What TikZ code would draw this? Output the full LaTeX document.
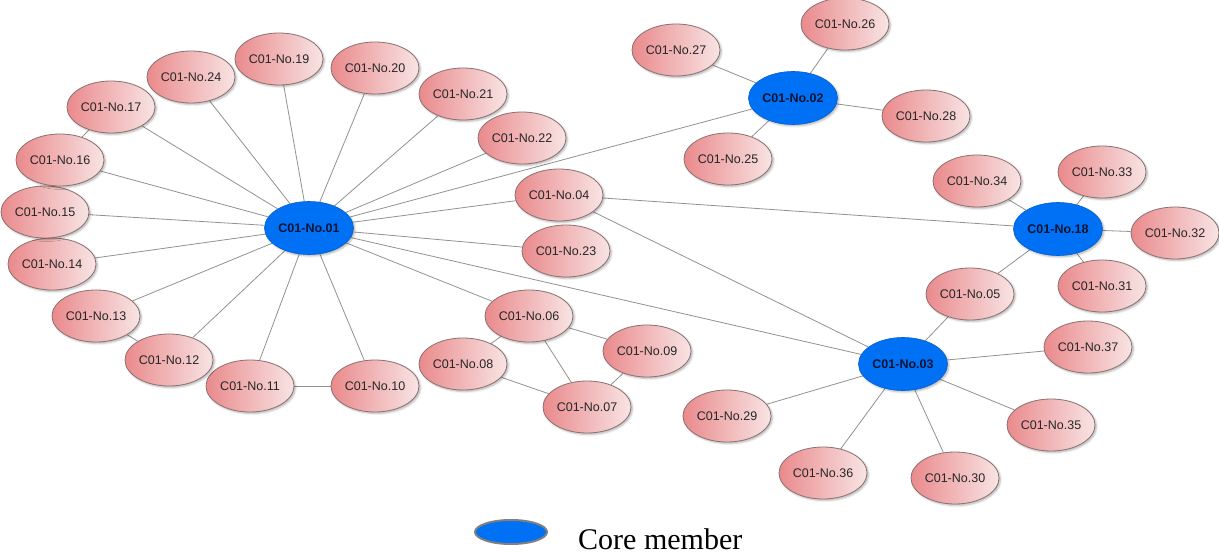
\documentclass[tikz,border=0pt]{standalone}
\usepackage{fontspec}
\setmainfont{Liberation Serif}
\newfontfamily\labelfont{Liberation Sans}
\usetikzlibrary{shapes.geometric,shadows.blur,backgrounds}

\definecolor{pinkL}{RGB}{234,138,140}
\definecolor{pinkR}{RGB}{248,228,228}
\definecolor{pinkBorder}{RGB}{140,112,112}
\definecolor{coreBlue}{RGB}{0,112,245}
\definecolor{coreText}{RGB}{10,20,50}
\definecolor{edgeGray}{RGB}{145,145,145}

\tikzset{
  member/.style={ellipse, minimum width=88pt, minimum height=52pt, inner sep=0pt,
    draw=pinkBorder, line width=0.8pt, left color=pinkL, right color=pinkR,
    font=\labelfont\fontsize{12.5}{14}\selectfont, text=black!85,
    blur shadow={shadow xshift=1.5pt, shadow yshift=-1.5pt, shadow blur radius=2pt, shadow opacity=30}},
  core/.style={ellipse, minimum width=89pt, minimum height=53pt, inner sep=0pt,
    fill=coreBlue, draw=coreBlue!85!black, line width=0.6pt,
    font=\labelfont\bfseries\fontsize{12.5}{14}\selectfont, text=coreText,
    blur shadow={shadow xshift=1.5pt, shadow yshift=-1.5pt, shadow blur radius=2pt, shadow opacity=30}},
  link/.style={draw=edgeGray, line width=0.8pt},
  legendkey/.style={ellipse, minimum width=72pt, minimum height=24pt, inner sep=0pt,
    fill=coreBlue, draw=gray, line width=2pt},
}

\begin{document}
\begin{tikzpicture}[x=1pt, y=-1pt]
\useasboundingbox (0,0) rectangle (1219,556);

% core members
\node[core] (c01) at (309,228) {C01-No.01};
\node[core] (c02) at (793,98)  {C01-No.02};
\node[core] (c03) at (903,364) {C01-No.03};
\node[core] (c18) at (1058,229) {C01-No.18};

% other members
\node[member] (n04) at (559,195) {C01-No.04};
\node[member] (n05) at (970,294) {C01-No.05};
\node[member] (n06) at (529,316) {C01-No.06};
\node[member] (n07) at (587,407) {C01-No.07};
\node[member] (n08) at (463,364) {C01-No.08};
\node[member] (n09) at (647,351) {C01-No.09};
\node[member] (n10) at (375,386) {C01-No.10};
\node[member] (n11) at (250,386) {C01-No.11};
\node[member] (n12) at (169,360) {C01-No.12};
\node[member] (n13) at (96,316)  {C01-No.13};
\node[member] (n14) at (52,264)  {C01-No.14};
\node[member] (n15) at (45,212)  {C01-No.15};
\node[member] (n16) at (60,160)  {C01-No.16};
\node[member] (n17) at (111,107) {C01-No.17};
\node[member] (n19) at (279,59)  {C01-No.19};
\node[member] (n20) at (375,68)  {C01-No.20};
\node[member] (n21) at (463,94)  {C01-No.21};
\node[member] (n22) at (522,138) {C01-No.22};
\node[member] (n23) at (566,251) {C01-No.23};
\node[member] (n24) at (191,77)  {C01-No.24};
\node[member] (n25) at (728,159) {C01-No.25};
\node[member] (n26) at (845,24)  {C01-No.26};
\node[member] (n27) at (676,50)  {C01-No.27};
\node[member] (n28) at (926,116) {C01-No.28};
\node[member] (n29) at (727,416) {C01-No.29};
\node[member] (n30) at (955,478) {C01-No.30};
\node[member] (n31) at (1102,286) {C01-No.31};
\node[member] (n32) at (1175,233) {C01-No.32};
\node[member] (n33) at (1102,172) {C01-No.33};
\node[member] (n34) at (977,181) {C01-No.34};
\node[member] (n35) at (1051,425) {C01-No.35};
\node[member] (n36) at (823,473) {C01-No.36};
\node[member] (n37) at (1088,347) {C01-No.37};

% links, kept behind the ellipses
\begin{pgfonlayer}{background}
  \foreach \t in {n24,n19,n20,n21,n22,n17,n16,n15,n14,n13,n12,n11,n10,n23,n04,n06,c02,c03}
    \draw[link] (c01) -- (\t);
  \foreach \t in {n27,n26,n28,n25}
    \draw[link] (c02) -- (\t);
  \foreach \t in {n34,n33,n32,n31,n05,n04}
    \draw[link] (c18) -- (\t);
  \foreach \t in {n05,n37,n35,n30,n36,n29,n04}
    \draw[link] (c03) -- (\t);
  \draw[link] (n17) -- (n16);
  \draw[link] (n13) -- (n12);
  \draw[link] (n11) -- (n10);
  \draw[link] (n06) -- (n08);
  \draw[link] (n06) -- (n09);
  \draw[link] (n06) -- (n07);
  \draw[link] (n08) -- (n07);
  \draw[link] (n09) -- (n07);
\end{pgfonlayer}

% legend
\node[legendkey] (key) at (511,532) {};
\node[anchor=base west, font=\fontsize{30}{33}\selectfont, inner sep=0pt] (keytext) at (578,549) {Core member};
\end{tikzpicture}
\end{document}
